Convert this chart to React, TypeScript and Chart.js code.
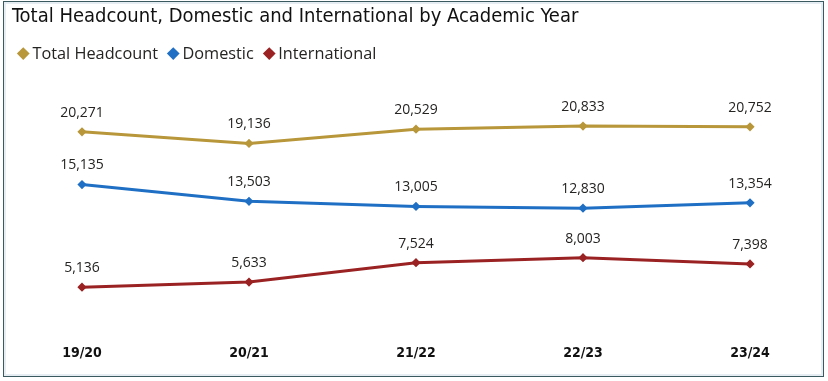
import React, { useEffect, useRef } from "react";
import { Chart, registerables } from "chart.js";

Chart.register(...registerables);

const years = ["19/20", "20/21", "21/22", "22/23", "23/24"];
const totalHeadcount = [20271, 19136, 20529, 20833, 20752];
const domestic = [15135, 13503, 13005, 12830, 13354];
const international = [5136, 5633, 7524, 8003, 7398];
const seriesNames = ["Total Headcount", "Domestic", "International"];
const seriesColors = ["#B8963A", "#1F6FC5", "#9B2222"];
const titleText = "Total Headcount, Domestic and International by Academic Year";

const labelFont = '"Segoe UI", "Open Sans", sans-serif';

const dataLabelPlugin = {
  id: "dataLabels",
  afterDatasetsDraw(chart: any) {
    const ctx = chart.ctx;
    ctx.save();
    ctx.font = `14px ${labelFont}`;
    ctx.fillStyle = "#252423";
    ctx.textAlign = "center";
    ctx.textBaseline = "middle";
    chart.data.datasets.forEach((ds: any, i: number) => {
      const meta = chart.getDatasetMeta(i);
      meta.data.forEach((pt: any, j: number) => {
        const v = ds.data[j] as number;
        ctx.fillText(v.toLocaleString("en-US"), pt.x, pt.y - 19);
      });
    });
    ctx.restore();
  },
};

function ChartCanvas() {
  const ref = useRef<HTMLCanvasElement | null>(null);
  useEffect(() => {
    if (!ref.current) return;
    const values = [totalHeadcount, domestic, international];
    const chart = new Chart(ref.current, {
      type: "line",
      data: {
        labels: years,
        datasets: values.map((d, i) => ({
          label: seriesNames[i],
          data: d,
          borderColor: seriesColors[i],
          backgroundColor: seriesColors[i],
          borderWidth: 3,
          pointStyle: "rectRot",
          pointRadius: 2.5,
          pointHoverRadius: 2.5,
          tension: 0,
        })),
      },
      options: {
        animation: false,
        responsive: false,
        maintainAspectRatio: false,
        layout: { padding: { top: 93.5, bottom: 14.3, left: 82, right: 78 } },
        plugins: {
          legend: { display: false },
          title: { display: false },
          tooltip: { enabled: false },
        },
        scales: {
          x: {
            offset: false,
            grid: { display: false, drawTicks: false },
            border: { display: false },
            ticks: {
              padding: 5,
              color: "#111111",
              font: { family: '"DejaVu Sans Condensed", "Liberation Sans Narrow", sans-serif', weight: "bold", size: 14 },
              maxRotation: 0,
            },
          },
          y: {
            display: false,
            min: 0,
            max: 24000,
          },
        },
      },
      plugins: [dataLabelPlugin],
    });
    return () => chart.destroy();
  }, []);
  return <canvas ref={ref} width={828} height={381} style={{ position: "absolute", left: 0, top: 0 }} />;
}

export default function App() {
  return (
    <div style={{ position: "absolute", left: 0, top: 0, width: 828, height: 381, background: "#ffffff", overflow: "hidden" }}>
      <div
        style={{
          position: "absolute",
          left: 3,
          top: 1,
          width: 819,
          height: 374,
          border: "1.5px solid #3A5A60",
          boxShadow: "inset 0 0 0 2px #E6EEF3",
        }}
      />
      <ChartCanvas />
      <div
        style={{
          position: "absolute",
          left: 12,
          top: 3,
          fontFamily: '"DejaVu Sans Condensed", "Open Sans", sans-serif',
          fontSize: 20,
          color: "#111111",
          whiteSpace: "nowrap",
        }}
      >
        {titleText}
      </div>
      <div
        style={{
          position: "absolute",
          left: 17,
          top: 42,
          display: "flex",
          alignItems: "center",
          fontFamily: labelFont,
          fontSize: 16.3,
          color: "#252423",
          whiteSpace: "nowrap",
        }}
      >
        {seriesNames.map((n, i) => (
          <div key={n} style={{ display: "flex", alignItems: "center", marginRight: 9 }}>
            <span
              style={{
                display: "inline-block",
                width: 8.5,
                height: 8.5,
                background: seriesColors[i],
                transform: "rotate(45deg)",
                marginLeft: 2,
                marginRight: 5,
              }}
            />
            <span>{n}</span>
          </div>
        ))}
      </div>
    </div>
  );
}
